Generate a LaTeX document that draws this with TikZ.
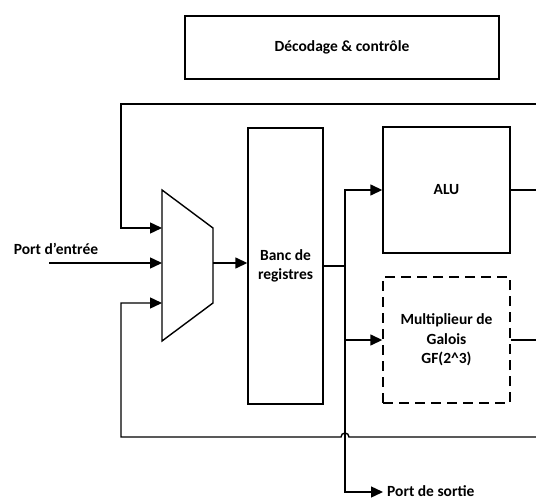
\documentclass[tikz,border=0pt]{standalone}
\usepackage{fontspec}
\setmainfont{Carlito}
\usetikzlibrary{arrows.meta,positioning}

\tikzset{
  block/.style={draw,line width=1.4pt,align=center,inner sep=0pt},
  wire/.style={line width=1.4pt},
  arr/.style={wire,-{Triangle[length=12pt,width=11pt]}},
}

\begin{document}
\begin{tikzpicture}[x=1pt,y=1pt,on grid,font=\bfseries\fontsize{15.5}{19.5}\selectfont]
   \useasboundingbox (0,0) rectangle (536,499);

   \node[block,minimum width=314pt,minimum height=63pt] (dec) at (342,451.5) {D\'ecodage \& contr\^ole};
   \node[block,minimum width=75pt,minimum height=276pt] (reg) at (285.5,233) {Banc de\\registres};
   \node[block,minimum width=127pt,minimum height=126pt] (alu) [above right=76pt and 161pt of reg] {ALU};
   \node[block,dashed,dash pattern=on 10pt off 6pt,minimum width=127pt,minimum height=126pt] (gf) [below=150pt of alu] {Multiplieur de\\Galois\\GF(2\^{}3)};

   % multiplexeur
   \draw[wire,line join=miter] (162,309) -- (213,271) -- (213,196) -- (162,158) -- cycle;
   \coordinate (m1) at (162,271);
   \coordinate (m2) at (162,236);
   \coordinate (m3) at (162,196);
   \coordinate (mout) at (213,236);

   \coordinate (top) at (536,395);
   \coordinate (bot) at (536,62);
   \coordinate (bus) at (345,233);
   \coordinate (outp) at (383,7);
   \coordinate (inp) at (49,236);

   \node (pin) at (56,250) {Port d'entr\'ee};
   \node[anchor=base west,inner sep=1pt] (pout) at (386,3) {Port de sortie};

   \draw[arr] (top) -| (121,271) -- (m1);
   \draw[arr] (inp) -- (m2);
   \draw[arr] (bot) -- (349,62) arc[start angle=0,end angle=180,radius=4] -| (121,196) -- (m3);
   \draw[arr] (mout) -- (reg.west |- mout);
   \draw[wire] (reg.east |- bus) -- (bus);
   \draw[arr] (bus) |- (alu.west);
   \draw[arr] (bus) |- (gf.west);
   \draw[arr] (bus) |- (outp);
   \draw[wire] (alu.east) -- (alu.east -| top);
   \draw[wire] (gf.east) -- (gf.east -| top);
\end{tikzpicture}
\end{document}
